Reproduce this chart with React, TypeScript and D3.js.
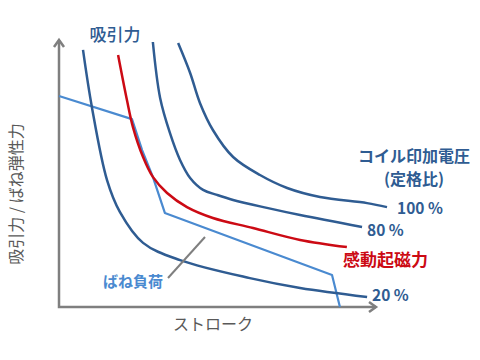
import React from "react";
import * as d3 from "d3";

type P = [number, number];

// Stroke (x, 0-100) vs force (y, 0-100)
const curve100: P[] = [[37.7, 99.6], [41.5, 88.3], [44.6, 77.0], [48.7, 66.8], [55.1, 56.6], [63.6, 49.8], [72.2, 44.9], [82.6, 41.5], [97.5, 39.2], [103.8, 37.7]];
const curve80: P[] = [[29.7, 100], [32.0, 78.9], [35.1, 65.7], [38.3, 55.5], [41.5, 48.7], [45.6, 44.2], [50.0, 42.3], [55.1, 40.4], [65.8, 37.4], [76.3, 34.7], [95.9, 30.2]];
const curveRated: P[] = [[18.7, 95.1], [21.5, 78.1], [23.4, 67.9], [26.6, 56.6], [29.7, 49.1], [34.2, 43.0], [40.5, 37.7], [48.7, 33.6], [61.4, 29.8], [76.3, 25.3], [91.1, 22.6]];
const curve20: P[] = [[7.6, 97.0], [10.4, 75.5], [15.2, 47.9], [19.3, 35.8], [26.6, 24.2], [38.3, 17.7], [60.4, 10.9], [76.3, 7.2], [97.5, 3.8]];
const springLoad: P[] = [[0, 79.6], [23.1, 70.9], [26.3, 59.2], [29.7, 49.1], [33.5, 35.5], [86.4, 12.1], [88.9, 0]];

const percentLabels = ["100 %", "80 %", "20 %"];

const DARK = "#2f5c92";
const RED = "#cc0a14";
const LIGHT = "#4a8ad0";
const GRAY = "#7f7f7f";
const FONT = "'Noto Sans CJK JP', 'Noto Sans', sans-serif";

export default function App() {
  const x = d3.scaleLinear().domain([0, 100]).range([59, 375]);
  const y = d3.scaleLinear().domain([0, 100]).range([307, 42]);

  const smooth = d3
    .line<P>()
    .x((d) => x(d[0]))
    .y((d) => y(d[1]))
    .curve(d3.curveCatmullRom.alpha(0.5));
  const straight = d3
    .line<P>()
    .x((d) => x(d[0]))
    .y((d) => y(d[1]));

  const x0 = x(0);
  const y0 = y(0);
  const xEnd = x(100) + 1;
  const yTop = 40;

  return (
    <svg width={480} height={360} style={{ position: "absolute", left: 0, top: 0, background: "#fff" }} fontFamily={FONT}>
      {/* axes */}
      <path d={`M${x0},${yTop} L${x0},${y0} L${xEnd},${y0}`} fill="none" stroke={GRAY} strokeWidth={2.5} />
      <path d={`M${x0 - 5},${yTop + 7} L${x0},${yTop} L${x0 + 5},${yTop + 7}`} fill="none" stroke={GRAY} strokeWidth={2.5} />
      <path d={`M${xEnd - 7},${y0 - 5} L${xEnd},${y0} L${xEnd - 7},${y0 + 5}`} fill="none" stroke={GRAY} strokeWidth={2.5} />

      {/* curves */}
      <path d={straight(springLoad) || ""} fill="none" stroke={LIGHT} strokeWidth={2.2} strokeLinejoin="round" />
      <path d={smooth(curve20) || ""} fill="none" stroke={DARK} strokeWidth={2.5} />
      <path d={smooth(curve80) || ""} fill="none" stroke={DARK} strokeWidth={2.5} />
      <path d={smooth(curve100) || ""} fill="none" stroke={DARK} strokeWidth={2.5} />
      <path d={smooth(curveRated) || ""} fill="none" stroke={RED} strokeWidth={2.5} />

      {/* leader */}
      <line x1={205} y1={237} x2={168} y2={278} stroke={GRAY} strokeWidth={2} />

      {/* labels */}
      <text x={115} y={33} fill={DARK} fontSize={17} fontWeight={500} textAnchor="middle" dominantBaseline="central">吸引力</text>
      <text x={414} y={155} fill={DARK} fontSize={16} fontWeight={700} textAnchor="middle" dominantBaseline="central">コイル印加電圧</text>
      <text x={414} y={178} fill={DARK} fontSize={16} fontWeight={700} textAnchor="middle" dominantBaseline="central">(定格比)</text>
      <text x={397} y={207} fill={DARK} fontSize={15.5} fontWeight={700} dominantBaseline="central">{percentLabels[0]}</text>
      <text x={367} y={229} fill={DARK} fontSize={15.5} fontWeight={700} dominantBaseline="central">{percentLabels[1]}</text>
      <text x={372} y={294} fill={DARK} fontSize={15.5} fontWeight={700} dominantBaseline="central">{percentLabels[2]}</text>
      <text x={343} y={258} fill={RED} fontSize={17} fontWeight={700} dominantBaseline="central">感動起磁力</text>
      <text x={133} y={280} fill={LIGHT} fontSize={15} fontWeight={700} textAnchor="middle" dominantBaseline="central">ばね負荷</text>
      <text x={213} y={323} fill="#595959" fontSize={16} textAnchor="middle" dominantBaseline="central">ストローク</text>
      <text transform="translate(15,194) rotate(-90)" fill="#595959" fontSize={16} textAnchor="middle" dominantBaseline="central">吸引力 / ばね弾性力</text>
    </svg>
  );
}
